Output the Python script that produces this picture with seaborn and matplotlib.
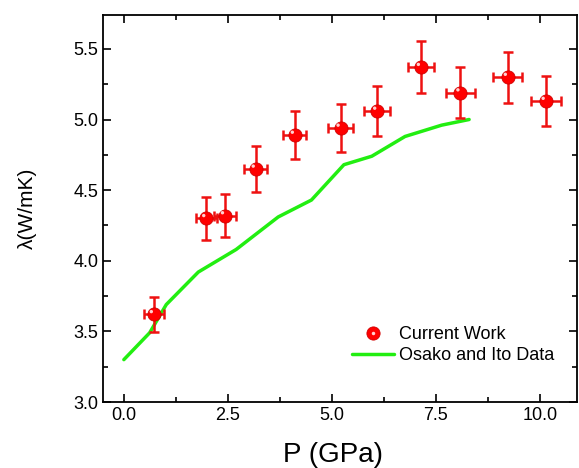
import matplotlib
matplotlib.use("Agg")
import matplotlib.pyplot as plt
import seaborn as sns
import numpy as np
import pandas as pd
from matplotlib.legend_handler import HandlerTuple
from matplotlib.lines import Line2D
from matplotlib.ticker import MultipleLocator

sns.set_style("ticks")
plt.rcParams['font.family'] = ['Liberation Sans', 'DejaVu Sans']
plt.rcParams['text.color'] = 'black'
plt.rcParams['axes.labelcolor'] = 'black'
plt.rcParams['xtick.color'] = 'black'
plt.rcParams['ytick.color'] = 'black'
plt.rcParams['axes.edgecolor'] = 'black'

# Current work data
p_cur = [0.72, 1.98, 2.43, 3.17, 4.11, 5.21, 6.09, 7.14, 8.09, 9.23, 10.14]
lam_cur = [3.62, 4.30, 4.32, 4.65, 4.89, 4.94, 5.06, 5.37, 5.19, 5.30, 5.13]
lam_err = [0.125, 0.15, 0.15, 0.16, 0.17, 0.17, 0.175, 0.185, 0.18, 0.18, 0.175]
p_err = [0.24, 0.25, 0.26, 0.28, 0.28, 0.31, 0.31, 0.32, 0.34, 0.35, 0.36]

# Osako and Ito data
p_oi = [0.0, 0.62, 1.02, 1.79, 2.70, 3.71, 4.51, 5.29, 5.96, 6.76, 7.64, 8.30]
lam_oi = [3.30, 3.49, 3.69, 3.92, 4.08, 4.31, 4.43, 4.68, 4.74, 4.88, 4.96, 5.00]

df_cur = pd.DataFrame({"P": p_cur, "lam": lam_cur})
df_oi = pd.DataFrame({"P": p_oi, "lam": lam_oi})

fig = plt.figure(figsize=(5.79, 4.68), dpi=100)
ax = fig.add_axes([0.178, 0.141, 0.819, 0.827])

sns.lineplot(data=df_oi, x="P", y="lam", ax=ax, color="#22ee11", lw=2.5, zorder=2)
ax.errorbar(p_cur, lam_cur, yerr=lam_err, xerr=p_err, fmt="none", ecolor="#ee1111",
            elinewidth=1.8, capsize=3.5, capthick=1.8, zorder=3)
sns.scatterplot(data=df_cur, x="P", y="lam", ax=ax, color="#ff0000", s=90,
                edgecolor="#d00000", linewidth=0.6, zorder=4)
# highlight for sphere look
ax.scatter(np.array(p_cur) - 0.06, np.array(lam_cur) + 0.02, s=6, color="#ffd0d0",
           edgecolor="none", zorder=5)

ax.set_xlim(-0.5, 10.9)
ax.set_ylim(3.0, 5.74)
ax.xaxis.set_minor_locator(MultipleLocator(1.25))
ax.yaxis.set_minor_locator(MultipleLocator(0.25))
ax.set_xticks([0, 2.5, 5.0, 7.5, 10.0])
ax.set_xticklabels(["0.0", "2.5", "5.0", "7.5", "10.0"])
ax.set_yticks([3.0, 3.5, 4.0, 4.5, 5.0, 5.5])
ax.set_yticklabels(["3.0", "3.5", "4.0", "4.5", "5.0", "5.5"])
ax.tick_params(which="both", direction="in", top=True, right=True, labelsize=13, width=1.2)
ax.tick_params(which="major", length=6)
ax.tick_params(which="minor", length=3.5)
for s in ax.spines.values():
    s.set_linewidth(1.3)
    s.set_color("black")

ax.set_xlabel("P (GPa)", fontsize=20)
ax.set_ylabel("λ(W/mK)", fontsize=15)
ax.xaxis.set_label_coords(0.484, -0.104)
ax.yaxis.set_label_coords(-0.139, 0.5)

h1 = Line2D([], [], ls="none", marker="o", markersize=9.5, markerfacecolor="#ff0000",
            markeredgecolor="#d00000", markeredgewidth=0.6)
h1b = Line2D([], [], ls="none", marker="o", markersize=2.5, markerfacecolor="#ffd0d0",
             markeredgecolor="none")
h2 = Line2D([], [], color="#22ee11", lw=2.5)
leg = ax.legend([(h1, h1b), h2], ["Current Work", "Osako and Ito Data"],
                handler_map={tuple: HandlerTuple(ndivide=1)},
                loc="lower right", bbox_to_anchor=(0.985, 0.055), frameon=False, fontsize=13,
                handlelength=2.3, handletextpad=0.28, labelspacing=0.25)

fig.savefig("out.png", dpi=100)
